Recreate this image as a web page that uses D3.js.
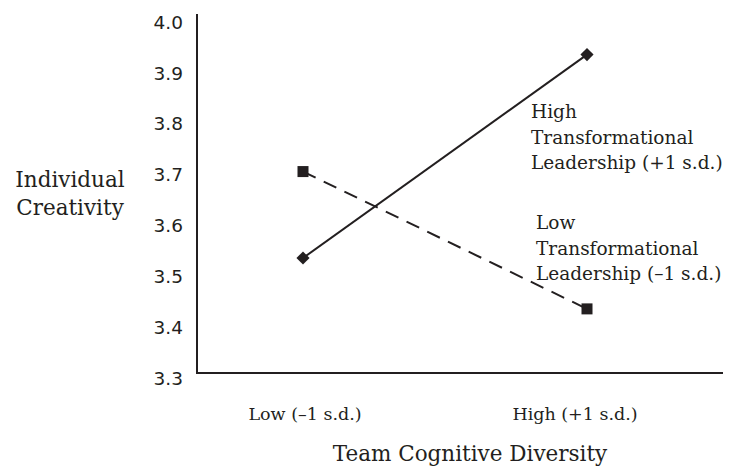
<!DOCTYPE html>
<html>
<head>
<meta charset="utf-8">
<script src="https://cdn.jsdelivr.net/npm/d3@7"></script>
<style>
  body { margin: 0; background: #fff; }
  .serif { font-family: "DejaVu Serif", serif; fill: #231f20; }
  .y-axis text { font-family: "DejaVu Sans", Verdana, sans-serif; font-size: 18.5px; fill: #231f20; }
</style>
</head>
<body>
<div id="chart"></div>
<script>
let width = 730, height = 467;

// data
const categories = ["Low (\u20131 s.d.)", "High (+1 s.d.)"];
const highTL = [3.53, 3.93];   // High Transformational Leadership (+1 s.d.)
const lowTL = [3.70, 3.43];    // Low Transformational Leadership (-1 s.d.)
const yTicks = [3.3, 3.4, 3.5, 3.6, 3.7, 3.8, 3.9, 4.0];

const svg = d3.select("#chart")
  .append("svg")
  .attr("width", width)
  .attr("height", height);

let x = d3.scalePoint()
  .domain(categories)
  .range([303, 587]);

let y = d3.scaleLinear()
  .domain([3.3, 4.0])
  .range([375, 19]);

const ink = "#231f20";

// axes lines (no ticks)
svg.append("line")
  .attr("x1", 197).attr("x2", 197)
  .attr("y1", y(4.0) - 5).attr("y2", y(3.3) - 1)
  .attr("stroke", ink).attr("stroke-width", 2);
svg.append("line")
  .attr("x1", 196).attr("x2", 723)
  .attr("y1", y(3.3) - 2).attr("y2", y(3.3) - 2)
  .attr("stroke", ink).attr("stroke-width", 2);

// y tick labels
svg.append("g")
  .attr("class", "y-axis")
  .attr("transform", "translate(183,0)")
  .call(d3.axisLeft(y).tickValues(yTicks).tickFormat(d3.format(".1f")).tickSize(0).tickPadding(0))
  .call(g => g.select(".domain").remove())
  .call(g => g.selectAll("text").attr("dy", "0.5em"));

// x category labels
svg.append("g")
  .selectAll("text")
  .data(categories)
  .join("text")
  .attr("class", "serif")
  .attr("x", (d, i) => x(d) + (i === 0 ? 2 : -12))
  .attr("y", 420)
  .attr("text-anchor", "middle")
  .attr("font-size", 17.5)
  .text(d => d);

// axis titles
svg.append("text")
  .attr("class", "serif")
  .attr("x", 470).attr("y", 461)
  .attr("text-anchor", "middle")
  .attr("font-size", 21.5)
  .text("Team Cognitive Diversity");

svg.append("text")
  .attr("class", "serif")
  .attr("text-anchor", "middle")
  .attr("font-size", 21.5)
  .selectAll("tspan")
  .data(["Individual", "Creativity"])
  .join("tspan")
  .attr("x", 70)
  .attr("y", (d, i) => 187 + i * 28)
  .text(d => d);

const line = d3.line()
  .x((d, i) => x(categories[i]))
  .y(d => y(d));

// high TL: solid with diamonds
svg.append("path")
  .datum(highTL)
  .attr("d", line)
  .attr("fill", "none")
  .attr("stroke", ink)
  .attr("stroke-width", 2);

svg.append("g")
  .selectAll("path")
  .data(highTL)
  .join("path")
  .attr("transform", (d, i) => `translate(${x(categories[i])},${y(d)})`)
  .attr("d", d3.symbol(d3.symbolDiamond2, 110))
  .attr("fill", ink);

// low TL: dashed with squares
svg.append("path")
  .datum(lowTL)
  .attr("d", line)
  .attr("fill", "none")
  .attr("stroke", ink)
  .attr("stroke-width", 2)
  .attr("stroke-dasharray", "14,9");

svg.append("g")
  .selectAll("rect")
  .data(lowTL)
  .join("rect")
  .attr("x", (d, i) => x(categories[i]) - 5.5)
  .attr("y", d => y(d) - 5.5)
  .attr("width", 11)
  .attr("height", 11)
  .attr("fill", ink);

// series labels
const highLabel = ["High", "Transformational", "Leadership (+1 s.d.)"];
const lowLabel = ["Low", "Transformational", "Leadership (\u20131 s.d.)"];

function seriesLabel(lines, x0, y0) {
  svg.append("text")
    .attr("class", "serif")
    .attr("font-size", 18.5)
    .selectAll("tspan")
    .data(lines)
    .join("tspan")
    .attr("x", x0)
    .attr("y", (d, i) => y0 + i * 25.5)
    .text(d => d);
}
seriesLabel(highLabel, 531, 118);
seriesLabel(lowLabel, 536, 229);
</script>
</body>
</html>
